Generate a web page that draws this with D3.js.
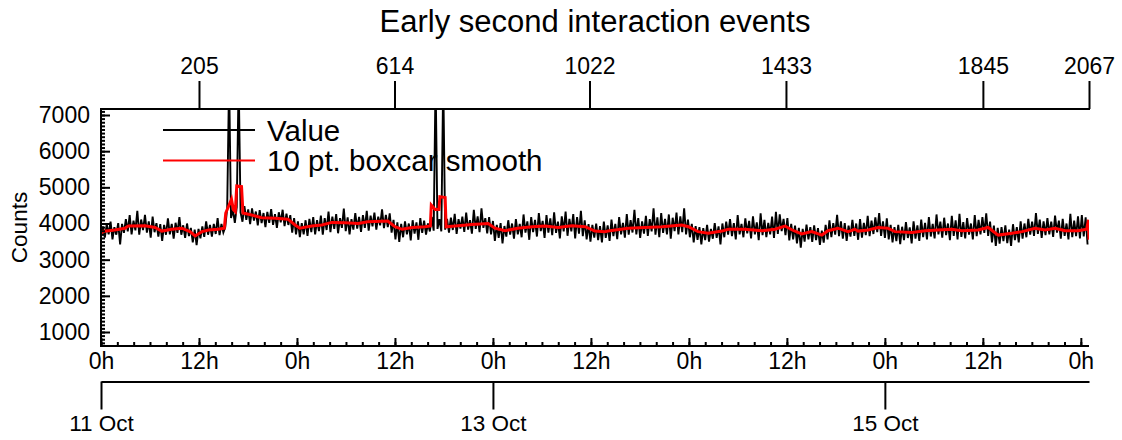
<!DOCTYPE html>
<html>
<head>
<meta charset="utf-8">
<script src="https://cdn.jsdelivr.net/npm/d3@7"></script>
<style>
  html, body { margin: 0; padding: 0; background: #fff; }
  svg { display: block; }
  text { font-family: "Liberation Sans", Arial, Helvetica, sans-serif; fill: #000; }
</style>
</head>
<body>
<script>
// ---------------- DATA ----------------
const chartTitle = "Early second interaction events";
const yLabel = "Counts";
const legendLabels = ["Value", "10 pt. boxcar smooth"];

// sample index of each raw value = position * sampleStep
const sampleStep = 4;
const values = [
3650,3920,3610,3980,3700,4050,3560,3900,3690,4010,
3420,3990,3740,4120,3780,4230,3700,4080,3810,4350,
3690,4110,3820,4240,3750,4060,3610,4190,3760,4010,
3640,3980,3520,3960,3690,4140,3700,3990,3580,4020,
3740,4180,3690,3950,3600,4000,3650,3880,3480,3830,
3400,3850,3590,3920,3630,4060,3690,3960,3640,3990,
3710,4150,3680,3990,3750,3900,4420,8000,4150,4380,
4020,4450,8000,4310,4050,4480,4100,4390,3980,4420,
4080,4330,3950,4370,4010,4290,3900,4320,4020,4400,
3960,4260,3880,4310,4030,4380,3930,4270,3960,4230,
3750,4150,3700,4060,3620,4010,3700,4090,3660,4130,
3760,4180,3700,4090,3790,4220,3690,4150,3820,4330,
3760,4190,3850,4260,3730,4150,3880,4410,3790,4170,
3700,4120,3830,4290,3860,4180,3770,4230,3880,4350,
3800,4220,3920,4300,3830,4190,3950,4390,3870,4240,
3900,4280,3750,4100,3560,4030,3490,3990,3620,4060,
3700,4000,3530,4090,3720,4030,3550,4150,3740,4080,
3690,4000,3780,4180,3800,8000,3850,4120,3780,8000,
3830,4130,3750,4160,3820,4270,3710,4120,3860,4190,
3770,4300,3830,4090,3720,4380,3850,4200,3760,4420,
3880,4150,3730,4180,3700,4070,3520,3960,3600,4010,
3450,3930,3640,4090,3690,4000,3580,4120,3700,3990,
3620,4250,3750,4060,3550,4180,3760,4100,3640,4290,
3790,4070,3600,4230,3750,4140,3680,4310,3740,4050,
3590,4200,3780,4330,3660,4130,3780,4260,3590,4180,
3720,4350,3650,4090,3560,3980,3500,3960,3610,4000,
3540,3930,3480,4050,3600,3950,3520,4110,3650,3990,
3570,4180,3700,4020,3610,4260,3690,4090,3750,4380,
3700,4150,3600,4060,3720,4210,3660,4120,3780,4420,
3690,4170,3620,4290,3740,4130,3700,4250,3580,4160,
3790,4300,3700,4200,3760,4420,3700,4110,3620,3990,
3480,3930,3550,3900,3420,3870,3540,3960,3500,3850,
3580,4010,3600,3920,3420,4000,3620,4050,3690,4120,
3650,4010,3560,4230,3700,3990,3620,4140,3730,4070,
3590,4200,3700,4030,3540,4280,3680,4100,3620,4020,
3700,4190,3600,4320,3710,4250,3790,4130,3680,4150,
3530,3990,3560,3940,3450,3880,3330,3850,3500,3970,
3560,3900,3490,3950,3540,3870,3410,3800,3470,3960,
3560,4090,3620,4010,3690,4240,3650,4060,3580,4010,
3520,3940,3640,4100,3660,4000,3550,4120,3610,4020,
3680,4210,3650,4080,3710,4170,3760,4290,3660,4060,
3600,4140,3560,3960,3480,3900,3510,3960,3430,3910,
3540,4040,3600,3890,3450,4060,3580,3950,3520,4110,
3620,4020,3560,4180,3640,3990,3590,4250,3700,4050,
3610,4160,3680,4000,3540,4210,3660,4090,3560,4270,
3630,4040,3590,4150,3690,4000,3560,4230,3650,4100,
3700,4180,3740,4280,3660,4050,3480,3940,3380,3880,
3440,3900,3510,3950,3460,3830,3380,3980,3540,3900,
3480,4060,3580,4000,3620,4130,3690,4050,3660,4290,
3710,4110,3600,4060,3680,4150,3700,4050,3630,4220,
3750,4080,3580,4130,3660,4000,3560,4270,3620,4080,
3650,4200,3590,4230,3640,4170,3420
];

// 10 pt. boxcar smooth, read at knots (sample index, value)
const smoothIndex = [0,3,29,50,57,92,113,127,148,169,186,197,211,225,245,258,261,273,277,281,284,294,297,315,336,364,391,406,416,441,462,483,510,538,558,600,615,630,651,678,689,691,699,707,709,720,722,741,776,810,824,845,872,902,929,956,985,1013,1033,1054,1061,1103,1138,1174,1215,1229,1249,1270,1299,1312,1347,1383,1410,1431,1446,1466,1487,1508,1521,1542,1563,1577,1584,1605,1626,1646,1661,1697,1724,1751,1780,1801,1835,1856,1877,1906,1927,1954,1975,1996,2017,2044,2062,2066,2067];
const smoothValue = [3700,3780,3820,3870,3930,3940,3890,3790,3840,3870,3775,3655,3775,3820,3840,3870,4290,4670,4380,4330,5040,5020,4290,4235,4160,4145,4120,3960,3870,3930,3960,4030,4020,4000,4050,4070,3910,3840,3890,3910,3930,4510,4390,4390,4740,4720,3910,3930,3975,4000,3870,3800,3870,3910,3930,3890,3940,3910,3790,3775,3790,3870,3890,3910,3960,3910,3775,3730,3790,3840,3840,3800,3840,3930,3820,3710,3775,3680,3800,3870,3775,3840,3790,3820,3890,3870,3775,3750,3800,3820,3840,3800,3820,3890,3680,3730,3775,3870,3820,3870,3800,3800,3840,4100,3550];

const indexDomain = [0, 2067];
const indexTicks = [205, 614, 1022, 1433, 1845, 2067];
const timeStart = "2015-10-11T00:00:00Z";
const timeEnd = "2015-10-16T01:00:00Z";
const yDomain = [613, 7166];
const yTicks = [1000, 2000, 3000, 4000, 5000, 6000, 7000];
const yMinorTicks = d3.range(700, 7101, 100);

// ---------------- LAYOUT ----------------
const W = 1122, H = 440;
const plot = { left: 101, right: 1089, top: 109, bottom: 346 };
const dateAxisY = 381.5;
const FONT = '"Liberation Sans", Arial, Helvetica, sans-serif';

const svg = d3.select("body").append("svg").attr("width", W).attr("height", H);

const xIdx = d3.scaleLinear().domain(indexDomain).range([plot.left, plot.right]);
const xTime = d3.scaleUtc().domain([new Date(timeStart), new Date(timeEnd)]).range([plot.left, plot.right]);
const y = d3.scaleLinear().domain(yDomain).range([plot.bottom, plot.top]);

svg.append("defs").append("clipPath").attr("id", "clip")
  .append("rect").attr("x", plot.left).attr("y", plot.top)
  .attr("width", plot.right - plot.left).attr("height", plot.bottom - plot.top);

function styleAxis(g, fontSize) {
  g.attr("font-family", FONT).attr("font-size", fontSize);
  g.selectAll("path.domain").attr("stroke", "#000").attr("stroke-width", 2);
  g.selectAll(".tick line").attr("stroke", "#000").attr("stroke-width", 2);
  g.selectAll(".tick text").attr("fill", "#000");
}

// ---- data ----
const dataG = svg.append("g").attr("clip-path", "url(#clip)");
const rawLine = d3.line().x((d, i) => xIdx(i * sampleStep)).y(d => y(d));
dataG.append("path").datum(values)
  .attr("fill", "none").attr("stroke", "#000").attr("stroke-width", 1.9)
  .attr("d", rawLine);

const smoothLine = d3.line().x(d => xIdx(d[0])).y(d => y(d[1]));
dataG.append("path").datum(smoothIndex.map((s, i) => [s, smoothValue[i]]))
  .attr("fill", "none").attr("stroke", "#ff0000").attr("stroke-width", 3)
  .attr("stroke-linejoin", "miter")
  .attr("d", smoothLine);

// ---- y axis (left) ----
const yMinor = svg.append("g").attr("transform", `translate(${plot.left},0)`)
  .call(d3.axisLeft(y).tickValues(yMinorTicks).tickSize(-4).tickSizeOuter(0).tickFormat(""));
styleAxis(yMinor, 23);
yMinor.selectAll("path.domain").remove();
const yAx = svg.append("g").attr("transform", `translate(${plot.left},0)`)
  .call(d3.axisLeft(y).tickValues(yTicks).tickSize(-9).tickSizeOuter(0).tickPadding(11).tickFormat(d3.format("d")));
styleAxis(yAx, 23);
yAx.select("path.domain").attr("d", `M0,${plot.bottom + 1}V${plot.top - 1}`);

// ---- bottom hour axis ----
const hMinor = svg.append("g").attr("transform", `translate(0,${plot.bottom})`)
  .call(d3.axisBottom(xTime).ticks(d3.utcHour.every(2)).tickSize(-4).tickSizeOuter(0).tickFormat(""));
styleAxis(hMinor, 23);
hMinor.selectAll("path.domain").remove();
const hAx = svg.append("g").attr("transform", `translate(0,${plot.bottom})`)
  .call(d3.axisBottom(xTime).ticks(d3.utcHour.every(12)).tickSize(-8).tickSizeOuter(0).tickPadding(7)
    .tickFormat(d => d.getUTCHours() + "h"));
styleAxis(hAx, 23);
hAx.select("path.domain").attr("d", `M${plot.left - 1},0H${plot.right}`);

// ---- date axis ----
const dAx = svg.append("g").attr("transform", `translate(0,${dateAxisY})`)
  .call(d3.axisBottom(xTime).ticks(d3.utcDay.every(2)).tickSize(28).tickSizeOuter(0).tickPadding(6)
    .tickFormat(d3.utcFormat("%-d %b")));
styleAxis(dAx, 22.5);

// ---- top index axis ----
const tAx = svg.append("g").attr("transform", `translate(0,${plot.top})`)
  .call(d3.axisTop(xIdx).tickValues(indexTicks).tickSize(28).tickSizeOuter(0).tickPadding(7).tickFormat(d3.format("d")));
styleAxis(tAx, 23);
tAx.select("path.domain").attr("d", `M${plot.left - 1},0H${plot.right + 1}`);

// ---- title & y label ----
svg.append("text").attr("x", (plot.left + plot.right) / 2).attr("y", 32)
  .attr("text-anchor", "middle").attr("font-size", 31).text(chartTitle);
svg.append("text").attr("transform", `translate(27,${(plot.top + plot.bottom) / 2}) rotate(-90)`)
  .attr("text-anchor", "middle").attr("font-size", 22.5).text(yLabel);

// ---- legend ----
const legend = svg.append("g");
const legendColors = ["#000", "#ff0000"];
const legendRowY = [130, 160.5];
legendLabels.forEach((lab, i) => {
  legend.append("line").attr("x1", 163).attr("x2", 255)
    .attr("y1", legendRowY[i]).attr("y2", legendRowY[i])
    .attr("stroke", legendColors[i]).attr("stroke-width", 2.2);
  legend.append("text").attr("x", 267).attr("y", legendRowY[i] + 10.5)
    .attr("font-size", 29.5).text(lab);
});
</script>
</body>
</html>
